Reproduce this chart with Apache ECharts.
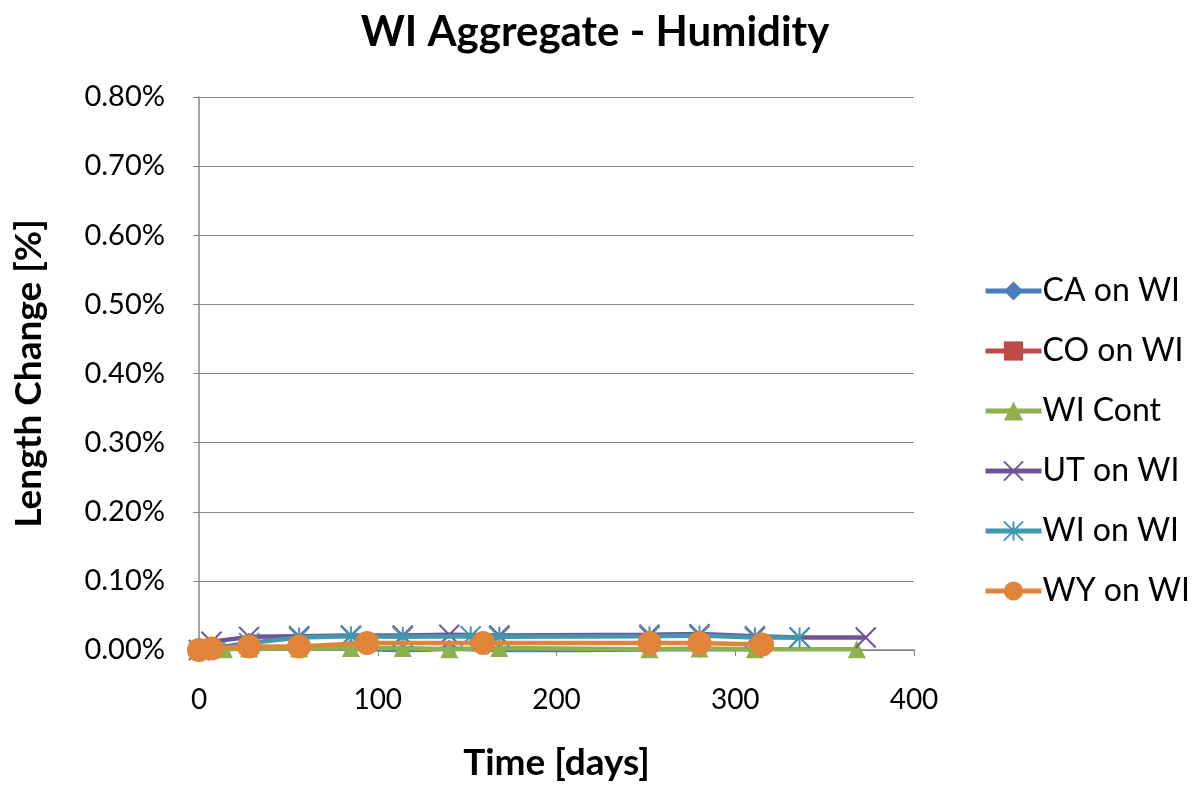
<!DOCTYPE html>
<html><head><meta charset="utf-8">
<script src="https://cdn.jsdelivr.net/npm/echarts@6/dist/echarts.min.js"></script>
<style>html,body{margin:0;padding:0;background:#fff}#c{width:1194px;height:785px}</style>
</head><body><div id="c"></div>
<script>
const title = 'WI Aggregate - Humidity';
const xName = 'Time [days]';
const yName = 'Length Change [%]';
const seriesNames = ['CA on WI','CO on WI','WI Cont','UT on WI','WI on WI','WY on WI'];
const colors = ['#4A7EBB','#BE4B48','#8EB04E','#6F5597','#4198AF','#E0843A'];
// [day, length change %]
const caOnWI = [[0,0],[7,0.001],[28,0.002],[56,0.002],[85,0.003],[116,-0.001],[140,0.002],[186,-0.002],[252,0.001],[280,0.001],[311,0.001]];
const coOnWI = [];
const wiCont = [[0,0],[14,0.001],[28,0.002],[56,0.002],[85,0.003],[114,0.003],[140,0.001],[168,0.003],[252,0.001],[280,0.002],[311,0.001],[368,0.001]];
const utOnWI = [[0,0],[7,0.012],[28,0.019],[56,0.02],[85,0.021],[114,0.021],[140,0.022],[168,0.021],[252,0.022],[280,0.023],[311,0.02],[336,0.018],[373,0.018]];
const wiOnWI = [[0,0],[28,0.01],[56,0.018],[85,0.02],[114,0.019],[152,0.02],[168,0.019],[252,0.02],[280,0.021],[311,0.018],[336,0.018]];
const wyOnWI = [[0,0],[7,0.002],[28,0.005],[56,0.005],[94,0.01],[159,0.01],[252,0.01],[280,0.01],[315,0.008]];
const allData = [caOnWI, coOnWI, wiCont, utOnWI, wiOnWI, wyOnWI];
const symbols = ['diamond','rect','triangle','path://M0,0L10,10M10,0L0,10','path://M5,0L5,10M0,0L10,10M10,0L0,10','circle'];
const symSizes = [18,18,18,20,20,24];

const font = 'Lato, "Open Sans", sans-serif';
const chart = echarts.init(document.getElementById('c'));
chart.setOption({
  animation:false,
  color: colors,
  title:{text:title,left:590,top:6,textAlign:'center',textStyle:{fontFamily:font,fontSize:42,fontWeight:'bold',color:'#000'}},
  grid:{left:199,right:280,top:97,bottom:135,containLabel:false,outerBoundsMode:'none'},
  legend:{orient:'vertical',left:978,top:270,itemWidth:56,itemHeight:24,itemGap:28,
    lineStyle:{width:5},
    textStyle:{fontFamily:font,fontSize:32,color:'#000',padding:[0,0,0,-4]},
    data: seriesNames},
  xAxis:{type:'value',min:0,max:400,interval:100,
    name:xName,nameLocation:'middle',nameGap:93,
    nameTextStyle:{fontFamily:font,fontSize:37,fontWeight:'bold',color:'#000',lineHeight:40},
    axisLine:{show:true,lineStyle:{color:'#868686',width:1.5}},
    axisTick:{show:true,length:6,inside:false,lineStyle:{color:'#868686'}},
    splitLine:{show:false},
    axisLabel:{fontFamily:font,fontSize:28,color:'#000',margin:36}},
  yAxis:{type:'value',min:0,max:0.8,interval:0.1,
    name:yName,nameLocation:'middle',nameGap:150,
    nameTextStyle:{fontFamily:font,fontSize:37,fontWeight:'bold',color:'#000',lineHeight:40},
    axisLine:{show:true,lineStyle:{color:'#868686',width:1.5}},
    axisTick:{show:true,length:6,lineStyle:{color:'#868686'}},
    splitLine:{show:true,lineStyle:{color:'#868686',width:1}},
    axisLabel:{fontFamily:font,fontSize:29,color:'#000',margin:34,formatter:v=>v.toFixed(2)+'%'}},
  series: seriesNames.map((n,i)=>({
    name:n,type:'line',data:allData[i],
    symbol:symbols[i],symbolSize:symSizes[i],showSymbol:true,
    lineStyle:{width:4.5,color:colors[i]},
    itemStyle:{color:colors[i],borderColor:colors[i],borderWidth:(i===3||i===4)?2:0},
    z:2+i
  }))
});
</script></body></html>
